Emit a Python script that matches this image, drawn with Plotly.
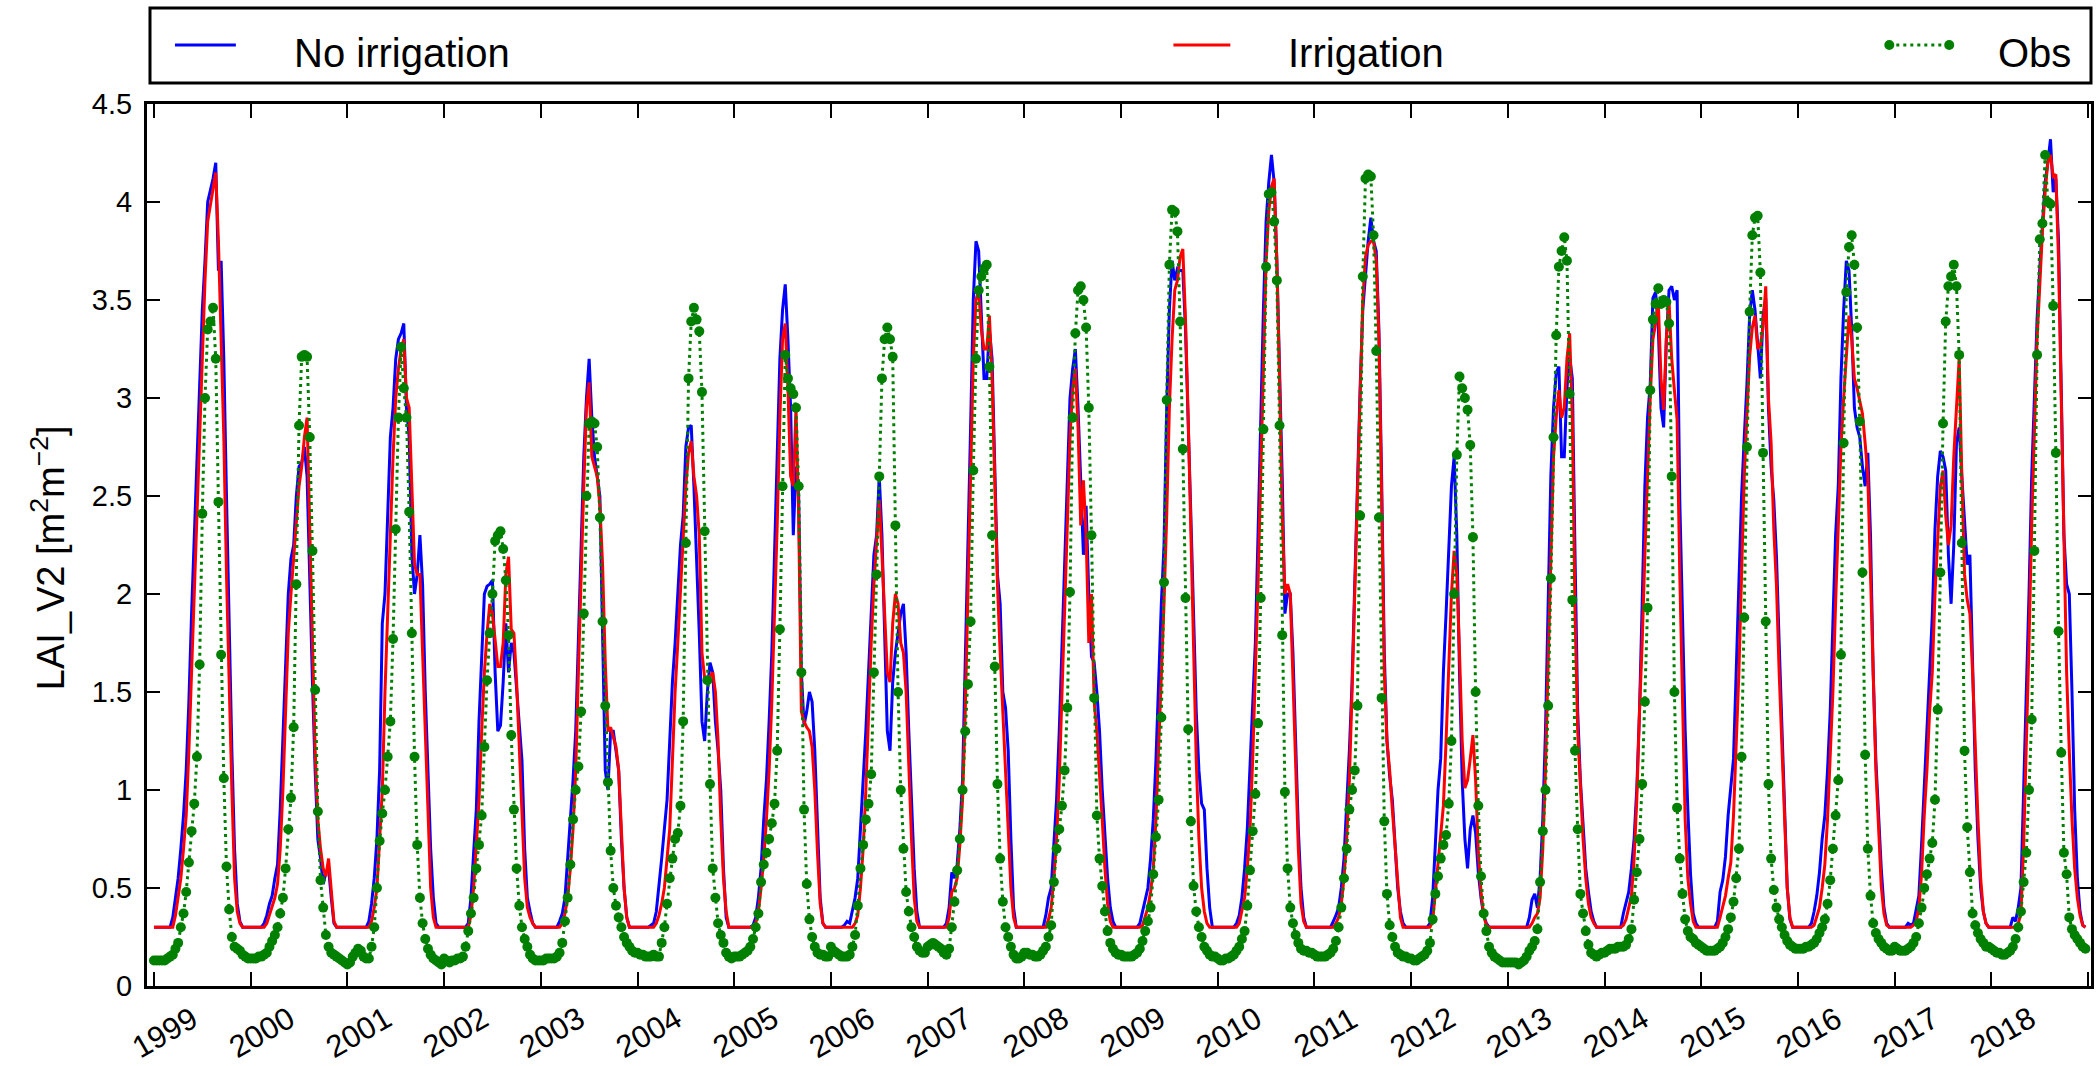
import plotly.graph_objects as go

# ---------------- data (dekadal values, 36 per year) ----------------
YEARS = list(range(1999, 2019))
YEAR_LABELS = [str(y) for y in YEARS]
Y_TICKS = [0, 0.5, 1, 1.5, 2, 2.5, 3, 3.5, 4, 4.5]
Y_TICK_TEXT = ["0", "0.5", "1", "1.5", "2", "2.5", "3", "3.5", "4", "4.5"]

NOIRR_1999 = [0.3,0.3,0.3,0.3,0.3,0.3,0.3,0.35,0.45,0.55,0.7,0.87,1.1,1.45,1.9,2.3,2.6,3.05,3.45,3.7,4.0,4.06,4.12,4.2,3.65,3.7,3.2,2.5,1.8,1.2,0.7,0.42,0.33,0.3,0.3,0.3]
IRR_1999 = [0.3,0.3,0.3,0.3,0.3,0.3,0.3,0.3,0.36,0.45,0.55,0.7,0.87,1.2,1.6,2.0,2.4,2.8,3.3,3.6,3.9,3.98,4.05,4.15,3.8,3.3,2.8,2.1,1.5,1.0,0.55,0.38,0.32,0.3,0.3,0.3]
OBS_1999 = [0.13,0.13,0.13,0.13,0.13,0.14,0.15,0.16,0.19,0.22,0.3,0.37,0.48,0.63,0.79,0.93,1.17,1.64,2.41,3.0,3.35,3.39,3.46,3.2,2.47,1.69,1.06,0.61,0.39,0.25,0.2,0.19,0.18,0.16,0.15,0.14]

NOIRR_2000 = [0.3,0.3,0.3,0.3,0.3,0.32,0.36,0.42,0.46,0.55,0.62,0.9,1.3,1.7,2.0,2.18,2.25,2.5,2.65,2.67,2.75,2.6,2.0,1.55,1.1,0.75,0.65,0.52,0.58,0.6,0.45,0.32,0.3,0.3,0.3,0.3]
IRR_2000 = [0.3,0.3,0.3,0.3,0.3,0.3,0.32,0.36,0.4,0.45,0.52,0.7,1.0,1.4,1.8,2.0,2.2,2.4,2.55,2.65,2.8,2.9,2.3,1.7,1.2,0.85,0.7,0.6,0.56,0.65,0.5,0.33,0.3,0.3,0.3,0.3]
OBS_2000 = [0.14,0.14,0.14,0.15,0.15,0.16,0.17,0.2,0.23,0.26,0.3,0.37,0.45,0.6,0.8,0.96,1.32,2.05,2.86,3.21,3.22,3.21,2.8,2.22,1.51,0.89,0.54,0.4,0.26,0.2,0.17,0.16,0.15,0.14,0.13,0.12]

NOIRR_2001 = [0.3,0.3,0.3,0.3,0.3,0.3,0.3,0.3,0.33,0.42,0.55,0.75,1.1,1.85,2.0,2.4,2.8,2.95,3.2,3.3,3.33,3.38,2.95,2.8,2.2,2.0,2.1,2.3,2.05,1.5,1.1,0.7,0.45,0.32,0.3,0.3]
IRR_2001 = [0.3,0.3,0.3,0.3,0.3,0.3,0.3,0.3,0.3,0.33,0.4,0.5,0.75,1.0,1.5,1.9,2.35,2.7,3.0,3.15,3.25,3.3,3.0,2.95,2.55,2.15,2.1,2.1,1.7,1.3,0.85,0.5,0.35,0.3,0.3,0.3]
OBS_2001 = [0.11,0.12,0.15,0.17,0.19,0.18,0.15,0.14,0.14,0.2,0.3,0.5,0.74,0.88,1.0,1.17,1.35,1.77,2.33,2.9,3.26,3.05,2.9,2.42,1.8,1.17,0.72,0.45,0.32,0.24,0.19,0.16,0.14,0.13,0.12,0.11]

NOIRR_2002 = [0.3,0.3,0.3,0.3,0.3,0.3,0.3,0.3,0.3,0.32,0.45,0.68,0.9,1.35,1.7,2.0,2.04,2.05,2.07,1.6,1.3,1.33,1.55,1.85,1.6,1.75,1.7,1.5,1.3,1.15,0.7,0.45,0.38,0.32,0.3,0.3]
IRR_2002 = [0.3,0.3,0.3,0.3,0.3,0.3,0.3,0.3,0.3,0.3,0.36,0.5,0.72,0.95,1.3,1.6,1.8,1.95,1.9,1.75,1.63,1.63,1.75,2.1,2.19,1.82,1.8,1.55,1.2,0.85,0.55,0.4,0.35,0.32,0.3,0.3]
OBS_2002 = [0.14,0.13,0.12,0.13,0.13,0.14,0.14,0.15,0.2,0.28,0.37,0.45,0.6,0.72,0.87,1.22,1.56,1.8,2.0,2.27,2.3,2.32,2.23,2.07,1.79,1.28,0.9,0.6,0.41,0.3,0.24,0.2,0.16,0.14,0.13,0.13]

NOIRR_2003 = [0.3,0.3,0.3,0.3,0.3,0.3,0.3,0.33,0.37,0.45,0.65,0.8,1.05,1.3,1.75,2.2,2.7,3.0,3.2,2.9,2.7,2.6,2.5,1.8,1.1,1.0,1.3,1.3,1.2,1.1,0.75,0.5,0.35,0.3,0.3,0.3]
IRR_2003 = [0.3,0.3,0.3,0.3,0.3,0.3,0.3,0.3,0.32,0.37,0.45,0.6,0.8,1.1,1.6,2.1,2.55,2.95,3.08,2.7,2.65,2.6,2.45,2.15,1.65,1.3,1.32,1.27,1.22,1.1,0.8,0.5,0.35,0.3,0.3,0.3]
OBS_2003 = [0.13,0.13,0.14,0.14,0.14,0.14,0.15,0.17,0.22,0.33,0.45,0.62,0.85,1.0,1.12,1.4,1.9,2.5,2.87,2.88,2.87,2.75,2.39,1.86,1.43,1.04,0.69,0.5,0.41,0.35,0.3,0.25,0.22,0.2,0.18,0.17]

NOIRR_2004 = [0.3,0.3,0.3,0.3,0.3,0.31,0.32,0.38,0.5,0.65,0.8,0.95,1.25,1.55,1.75,2.0,2.25,2.4,2.75,2.85,2.86,2.55,2.2,1.8,1.35,1.25,1.5,1.65,1.6,1.35,1.2,1.0,0.6,0.35,0.3,0.3]
IRR_2004 = [0.3,0.3,0.3,0.3,0.3,0.3,0.3,0.32,0.36,0.42,0.5,0.65,0.8,1.15,1.5,1.75,2.0,2.25,2.55,2.72,2.78,2.6,2.5,2.3,1.7,1.57,1.57,1.58,1.6,1.5,1.25,0.85,0.55,0.38,0.3,0.3]
OBS_2004 = [0.17,0.16,0.16,0.15,0.15,0.15,0.16,0.15,0.15,0.22,0.3,0.42,0.55,0.65,0.75,0.78,0.92,1.35,2.26,3.1,3.39,3.46,3.4,3.34,3.03,2.32,1.56,1.03,0.6,0.45,0.32,0.26,0.22,0.17,0.15,0.14]

NOIRR_2005 = [0.3,0.3,0.3,0.3,0.3,0.3,0.3,0.31,0.35,0.45,0.6,0.85,1.05,1.35,1.7,2.2,2.75,3.2,3.45,3.58,3.3,2.95,2.3,2.65,2.5,1.6,1.33,1.4,1.5,1.45,1.2,0.8,0.45,0.32,0.3,0.3]
IRR_2005 = [0.3,0.3,0.3,0.3,0.3,0.3,0.3,0.3,0.32,0.38,0.5,0.65,0.85,1.1,1.45,1.85,2.35,2.9,3.3,3.38,3.05,2.6,2.55,2.95,2.4,1.4,1.35,1.32,1.3,1.22,1.0,0.68,0.42,0.32,0.3,0.3]
OBS_2005 = [0.15,0.15,0.15,0.16,0.17,0.18,0.2,0.24,0.3,0.37,0.53,0.62,0.68,0.75,0.83,0.93,1.2,1.82,2.55,3.22,3.1,3.05,3.02,2.95,2.55,1.6,0.9,0.52,0.34,0.25,0.2,0.17,0.16,0.16,0.15,0.15]

NOIRR_2006 = [0.3,0.3,0.3,0.3,0.3,0.31,0.33,0.32,0.38,0.45,0.55,0.8,1.0,1.3,1.6,1.9,2.2,2.3,2.6,2.3,1.8,1.3,1.2,1.55,1.7,1.8,1.9,1.95,1.7,1.3,0.9,0.6,0.38,0.3,0.3,0.3]
IRR_2006 = [0.3,0.3,0.3,0.3,0.3,0.3,0.3,0.3,0.3,0.32,0.36,0.5,0.7,1.0,1.4,1.75,2.05,2.3,2.48,2.2,1.9,1.6,1.55,1.85,2.0,1.95,1.75,1.7,1.5,1.1,0.75,0.45,0.33,0.3,0.3,0.3]
OBS_2006 = [0.2,0.18,0.17,0.16,0.15,0.15,0.15,0.16,0.2,0.26,0.41,0.6,0.72,0.85,0.93,1.08,1.6,2.1,2.6,3.1,3.3,3.36,3.3,3.21,2.35,1.5,1.0,0.7,0.48,0.38,0.3,0.25,0.2,0.18,0.17,0.17]

NOIRR_2007 = [0.3,0.3,0.3,0.3,0.3,0.3,0.3,0.32,0.4,0.58,0.55,0.62,0.8,1.05,1.6,2.2,2.85,3.5,3.8,3.75,3.4,3.1,3.1,3.35,3.2,2.6,2.1,1.95,1.5,1.42,1.2,0.75,0.4,0.3,0.3,0.3]
IRR_2007 = [0.3,0.3,0.3,0.3,0.3,0.3,0.3,0.3,0.35,0.48,0.5,0.55,0.72,0.95,1.4,2.0,2.6,3.2,3.5,3.55,3.35,3.25,3.25,3.42,3.1,2.6,2.05,1.7,1.4,1.1,0.8,0.5,0.35,0.3,0.3,0.3]
OBS_2007 = [0.2,0.21,0.22,0.21,0.2,0.19,0.17,0.16,0.19,0.3,0.43,0.59,0.75,1.0,1.3,1.54,1.86,2.63,3.2,3.55,3.62,3.66,3.68,3.16,2.3,1.63,1.03,0.65,0.43,0.3,0.25,0.2,0.16,0.14,0.14,0.15]

NOIRR_2008 = [0.3,0.3,0.3,0.3,0.3,0.3,0.3,0.3,0.36,0.45,0.5,0.7,0.95,1.3,1.75,2.2,2.6,3.0,3.15,3.25,2.95,2.6,2.2,2.45,2.0,1.68,1.65,1.5,1.3,1.0,0.75,0.55,0.4,0.33,0.3,0.3]
IRR_2008 = [0.3,0.3,0.3,0.3,0.3,0.3,0.3,0.3,0.3,0.34,0.4,0.55,0.75,1.05,1.45,1.9,2.35,2.8,3.05,3.15,2.85,2.35,2.58,2.3,1.75,2.0,1.45,1.3,1.1,0.85,0.6,0.42,0.33,0.3,0.3,0.3]
OBS_2008 = [0.17,0.17,0.16,0.16,0.15,0.15,0.16,0.18,0.2,0.25,0.31,0.53,0.7,0.8,0.92,1.1,1.42,2.01,2.9,3.33,3.55,3.57,3.5,3.36,2.95,2.3,1.47,0.87,0.65,0.51,0.38,0.28,0.22,0.19,0.17,0.16]

NOIRR_2009 = [0.3,0.3,0.3,0.3,0.3,0.3,0.3,0.32,0.38,0.45,0.5,0.65,0.85,1.15,1.6,1.95,2.25,2.95,3.45,3.7,3.6,3.66,3.65,3.65,3.35,2.8,2.4,1.9,1.4,1.1,0.93,0.9,0.6,0.4,0.3,0.3]
IRR_2009 = [0.3,0.3,0.3,0.3,0.3,0.3,0.3,0.3,0.31,0.35,0.4,0.48,0.6,0.85,1.2,1.6,1.95,2.4,2.95,3.3,3.55,3.6,3.72,3.76,3.4,2.9,2.3,1.7,1.15,0.75,0.5,0.38,0.32,0.3,0.3,0.3]
OBS_2009 = [0.16,0.15,0.15,0.15,0.15,0.16,0.17,0.19,0.23,0.28,0.33,0.4,0.57,0.76,0.95,1.37,2.06,2.99,3.68,3.96,3.95,3.85,3.39,2.74,1.98,1.31,0.84,0.51,0.38,0.3,0.25,0.2,0.18,0.16,0.15,0.15]

NOIRR_2010 = [0.3,0.3,0.3,0.3,0.3,0.3,0.3,0.32,0.36,0.45,0.6,0.8,1.1,1.45,1.75,2.3,2.9,3.45,3.9,4.1,4.24,4.1,3.7,3.2,2.6,1.9,2.0,2.0,1.7,1.25,0.8,0.5,0.35,0.3,0.3,0.3]
IRR_2010 = [0.3,0.3,0.3,0.3,0.3,0.3,0.3,0.3,0.32,0.38,0.45,0.6,0.8,1.15,1.55,2.05,2.6,3.2,3.7,3.95,4.08,4.12,3.7,3.1,2.4,2.0,2.05,2.0,1.6,1.1,0.7,0.42,0.33,0.3,0.3,0.3]
OBS_2010 = [0.14,0.13,0.13,0.14,0.14,0.15,0.16,0.18,0.2,0.24,0.28,0.41,0.59,0.79,0.98,1.34,1.98,2.84,3.67,4.04,4.05,3.9,3.6,2.86,1.79,0.99,0.6,0.4,0.32,0.26,0.22,0.19,0.18,0.18,0.17,0.17]

NOIRR_2011 = [0.3,0.3,0.3,0.3,0.3,0.3,0.3,0.33,0.36,0.4,0.5,0.65,0.9,1.2,1.55,2.05,2.6,3.05,3.45,3.65,3.8,3.92,3.8,3.75,3.35,2.6,1.7,1.25,1.07,0.95,0.75,0.5,0.38,0.32,0.3,0.3]
IRR_2011 = [0.3,0.3,0.3,0.3,0.3,0.3,0.3,0.3,0.32,0.35,0.42,0.55,0.75,1.05,1.5,2.0,2.55,3.1,3.5,3.72,3.78,3.8,3.8,3.7,3.3,2.5,1.6,1.25,1.1,0.9,0.7,0.5,0.35,0.3,0.3,0.3]
OBS_2011 = [0.16,0.15,0.15,0.15,0.15,0.16,0.17,0.19,0.23,0.3,0.4,0.55,0.7,0.9,1.0,1.1,1.43,2.4,3.62,4.12,4.14,4.13,3.83,3.24,2.39,1.47,0.84,0.47,0.31,0.25,0.2,0.17,0.16,0.15,0.15,0.14]

NOIRR_2012 = [0.3,0.3,0.3,0.3,0.3,0.3,0.3,0.32,0.45,0.72,1.0,1.16,1.6,1.9,2.25,2.55,2.7,2.3,1.6,1.05,0.75,0.6,0.8,0.87,0.78,0.58,0.45,0.36,0.32,0.3,0.3,0.3,0.3,0.3,0.3,0.3]
IRR_2012 = [0.3,0.3,0.3,0.3,0.3,0.3,0.3,0.3,0.33,0.48,0.6,0.75,0.92,1.25,1.65,2.0,2.22,2.1,1.7,1.25,1.01,1.05,1.16,1.28,1.05,0.68,0.48,0.36,0.31,0.3,0.3,0.3,0.3,0.3,0.3,0.3]
OBS_2012 = [0.14,0.13,0.13,0.14,0.15,0.16,0.18,0.22,0.34,0.47,0.56,0.65,0.72,0.77,0.93,1.25,2.0,2.71,3.11,3.05,3.0,2.94,2.76,2.29,1.5,0.92,0.56,0.37,0.28,0.2,0.17,0.15,0.14,0.13,0.12,0.12]

NOIRR_2013 = [0.3,0.3,0.3,0.3,0.3,0.3,0.3,0.3,0.35,0.44,0.47,0.4,0.55,0.85,1.3,2.0,2.6,2.95,3.13,3.16,2.7,2.7,3.05,3.21,3.1,2.2,1.4,1.05,0.8,0.6,0.48,0.38,0.33,0.3,0.3,0.3]
IRR_2013 = [0.3,0.3,0.3,0.3,0.3,0.3,0.3,0.3,0.3,0.32,0.35,0.37,0.45,0.7,1.1,1.65,2.2,2.7,2.9,3.04,2.9,2.95,3.2,3.33,2.9,1.9,1.3,0.98,0.75,0.55,0.42,0.35,0.32,0.3,0.3,0.3]
OBS_2013 = [0.12,0.12,0.12,0.12,0.11,0.12,0.13,0.15,0.18,0.2,0.23,0.29,0.53,0.79,1.0,1.43,2.08,2.8,3.32,3.67,3.75,3.82,3.7,3.02,1.97,1.2,0.8,0.47,0.37,0.28,0.21,0.17,0.16,0.15,0.16,0.17]

NOIRR_2014 = [0.3,0.3,0.3,0.3,0.3,0.3,0.3,0.37,0.43,0.48,0.6,0.75,1.01,1.4,1.95,2.55,2.9,3.07,3.51,3.54,3.36,2.95,2.85,3.3,3.55,3.57,3.5,3.55,2.48,1.89,1.31,0.9,0.57,0.37,0.32,0.3]
IRR_2014 = [0.3,0.3,0.3,0.3,0.3,0.3,0.3,0.31,0.34,0.4,0.46,0.65,0.95,1.4,1.75,2.2,2.65,3.0,3.3,3.38,3.49,3.1,2.94,3.3,3.49,3.2,3.04,2.89,2.1,1.4,0.85,0.55,0.42,0.33,0.3,0.3]
OBS_2014 = [0.17,0.18,0.19,0.19,0.19,0.2,0.2,0.2,0.21,0.24,0.29,0.44,0.58,0.75,1.03,1.45,1.93,3.04,3.4,3.48,3.56,3.48,3.5,3.49,3.38,2.6,1.5,0.91,0.65,0.47,0.34,0.28,0.25,0.24,0.22,0.21]

NOIRR_2015 = [0.3,0.3,0.3,0.3,0.3,0.3,0.33,0.48,0.54,0.66,0.87,1.0,1.16,1.6,2.04,2.5,2.8,3.07,3.42,3.55,3.45,3.25,3.1,3.42,3.51,2.95,2.65,2.48,2.19,1.75,1.35,0.9,0.5,0.34,0.3,0.3]
IRR_2015 = [0.3,0.3,0.3,0.3,0.3,0.3,0.3,0.35,0.4,0.46,0.55,0.63,0.87,1.2,1.6,2.1,2.6,2.92,3.21,3.36,3.42,3.25,3.27,3.36,3.57,3.0,2.77,2.33,2.04,1.6,1.25,0.85,0.5,0.35,0.3,0.3]
OBS_2015 = [0.2,0.19,0.18,0.18,0.18,0.18,0.19,0.2,0.22,0.25,0.29,0.35,0.43,0.55,0.7,1.17,1.88,2.75,3.44,3.83,3.92,3.93,3.64,2.72,1.86,1.03,0.65,0.49,0.4,0.34,0.3,0.26,0.23,0.21,0.2,0.19]

NOIRR_2016 = [0.3,0.3,0.3,0.3,0.3,0.32,0.38,0.46,0.58,0.75,0.87,1.1,1.4,1.85,2.3,2.55,3.1,3.45,3.7,3.65,3.35,2.95,2.85,2.8,2.65,2.55,2.72,2.3,1.6,1.15,0.87,0.6,0.4,0.32,0.3,0.3]
IRR_2016 = [0.3,0.3,0.3,0.3,0.3,0.3,0.31,0.35,0.4,0.5,0.62,0.85,1.16,1.5,1.95,2.4,2.75,3.0,3.21,3.42,3.3,3.1,3.05,2.98,2.92,2.77,2.6,2.1,1.55,1.1,0.81,0.51,0.37,0.31,0.3,0.3]
OBS_2016 = [0.19,0.19,0.19,0.2,0.2,0.21,0.22,0.24,0.27,0.3,0.34,0.42,0.54,0.7,0.87,1.05,1.69,2.77,3.54,3.77,3.83,3.68,3.36,2.88,2.11,1.18,0.7,0.46,0.32,0.27,0.24,0.22,0.2,0.19,0.18,0.18]

NOIRR_2017 = [0.3,0.3,0.3,0.3,0.3,0.32,0.31,0.32,0.4,0.46,0.72,1.01,1.25,1.6,1.89,2.33,2.6,2.73,2.7,2.63,2.2,1.95,2.25,2.77,2.85,2.6,2.35,2.15,2.2,1.6,1.1,0.75,0.5,0.38,0.32,0.3]
IRR_2017 = [0.3,0.3,0.3,0.3,0.3,0.3,0.3,0.31,0.33,0.4,0.57,0.87,1.1,1.4,1.6,2.0,2.3,2.55,2.63,2.4,2.25,2.35,2.7,2.95,3.2,2.6,2.1,1.97,1.9,1.6,1.2,0.85,0.55,0.38,0.32,0.3]
OBS_2017 = [0.2,0.19,0.18,0.18,0.18,0.19,0.2,0.22,0.25,0.32,0.4,0.5,0.57,0.65,0.73,0.95,1.41,2.11,2.87,3.39,3.57,3.62,3.68,3.57,3.22,2.26,1.2,0.81,0.58,0.37,0.31,0.27,0.24,0.22,0.2,0.2]

NOIRR_2018 = [0.3,0.3,0.3,0.3,0.3,0.3,0.3,0.3,0.35,0.33,0.4,0.5,1.0,1.45,2.0,2.6,3.0,3.4,3.66,3.9,4.1,4.2,4.32,4.05,4.12,3.8,3.0,2.3,2.05,2.0,1.5,0.9,0.55,0.38,0.31,0.3]
IRR_2018 = [0.3,0.3,0.3,0.3,0.3,0.3,0.3,0.3,0.3,0.3,0.32,0.37,0.72,1.2,1.75,2.35,2.9,3.3,3.57,3.85,4.05,4.2,4.24,4.13,4.14,3.7,3.0,2.2,1.6,1.2,0.85,0.6,0.45,0.36,0.31,0.3]
OBS_2018 = [0.19,0.18,0.17,0.17,0.16,0.16,0.17,0.18,0.2,0.24,0.3,0.38,0.53,0.68,1.0,1.36,2.22,3.22,3.81,3.89,4.24,4.0,3.99,3.47,2.72,1.81,1.19,0.68,0.57,0.35,0.29,0.26,0.24,0.22,0.2,0.19]

NOIRR = [NOIRR_1999, NOIRR_2000, NOIRR_2001, NOIRR_2002, NOIRR_2003, NOIRR_2004, NOIRR_2005,
         NOIRR_2006, NOIRR_2007, NOIRR_2008, NOIRR_2009, NOIRR_2010, NOIRR_2011, NOIRR_2012,
         NOIRR_2013, NOIRR_2014, NOIRR_2015, NOIRR_2016, NOIRR_2017, NOIRR_2018]
IRR = [IRR_1999, IRR_2000, IRR_2001, IRR_2002, IRR_2003, IRR_2004, IRR_2005,
       IRR_2006, IRR_2007, IRR_2008, IRR_2009, IRR_2010, IRR_2011, IRR_2012,
       IRR_2013, IRR_2014, IRR_2015, IRR_2016, IRR_2017, IRR_2018]
OBS = [OBS_1999, OBS_2000, OBS_2001, OBS_2002, OBS_2003, OBS_2004, OBS_2005,
       OBS_2006, OBS_2007, OBS_2008, OBS_2009, OBS_2010, OBS_2011, OBS_2012,
       OBS_2013, OBS_2014, OBS_2015, OBS_2016, OBS_2017, OBS_2018]


def flatten(per_year):
    xs, ys = [], []
    for yr, vals in zip(YEARS, per_year):
        for d, v in enumerate(vals):
            xs.append(yr + d / 36.0)
            ys.append(v)
    return xs, ys


x_b, y_b = flatten(NOIRR)
x_r, y_r = flatten(IRR)
x_o, y_o = flatten(OBS)

# ---------------- layout geometry ----------------
W, H = 2098, 1066
L, R, T, B = 147, 4, 104, 80
PW = W - L - R
PH = H - T - B
FONT = "Liberation Sans, Arial, Helvetica, sans-serif"


def px_x(px):
    return (px - L) / PW


def px_y(py):
    return (H - B - py) / PH


fig = go.Figure()
fig.add_trace(go.Scatter(x=x_b, y=y_b, mode="lines", name="No irrigation",
                         line=dict(color="#0000ff", width=3), showlegend=False))
fig.add_trace(go.Scatter(x=x_r, y=y_r, mode="lines", name="Irrigation",
                         line=dict(color="#ff0000", width=3), showlegend=False))
fig.add_trace(go.Scatter(x=x_o, y=y_o, mode="lines+markers", name="Obs",
                         line=dict(color="#008000", width=3, dash="3px,4px"),
                         marker=dict(size=10, color="#008000"), showlegend=False))

shapes = []
annotations = []

# legend box
shapes.append(dict(type="rect", xref="paper", yref="paper",
                   x0=px_x(150), x1=px_x(2094), y0=px_y(83), y1=px_y(8),
                   line=dict(color="black", width=3), fillcolor="white", layer="above"))
LEG_Y = 45
TXT_Y = 53
legend_items = [
    ("No irrigation", "#0000ff", 175, 236, 292, False),
    ("Irrigation", "#ff0000", 1175, 1232, 1288, False),
    ("Obs", "#008000", 1892, 1952, 1999, True),
]
for label, color, lx0, lx1, tx, dotted in legend_items:
    shapes.append(dict(type="line", xref="paper", yref="paper",
                       x0=px_x(lx0), x1=px_x(lx1), y0=px_y(LEG_Y), y1=px_y(LEG_Y),
                       line=dict(color=color, width=3, dash="3px,4px" if dotted else "solid"),
                       layer="above"))
    if dotted:
        for cx in (lx0, lx1):
            shapes.append(dict(type="circle", xref="paper", yref="paper",
                               xsizemode="pixel", ysizemode="pixel",
                               xanchor=px_x(cx), yanchor=px_y(LEG_Y),
                               x0=-5, x1=5, y0=-5, y1=5,
                               fillcolor=color, line=dict(color=color, width=0),
                               layer="above"))
    annotations.append(dict(xref="paper", yref="paper", x=px_x(tx), y=px_y(TXT_Y),
                            text=label, showarrow=False, xanchor="left", yanchor="middle",
                            font=dict(family=FONT, size=40, color="black")))

# rotated year labels
for yr, lab in zip(YEARS, YEAR_LABELS):
    annotations.append(dict(xref="x", yref="paper", x=yr, y=0, xshift=11, yshift=-46,
                            text=lab, showarrow=False, textangle=-30,
                            xanchor="center", yanchor="middle", borderpad=0,
                            font=dict(family=FONT, size=31, color="black")))

# y axis title
annotations.append(dict(xref="paper", yref="paper", x=px_x(48), y=px_y(558),
                        text="LAI_V2 [m<sup>2</sup>m<sup>\u22122</sup>]", showarrow=False,
                        textangle=-90, xanchor="center", yanchor="middle",
                        font=dict(family=FONT, size=38, color="black")))

fig.update_layout(
    width=W, height=H,
    margin=dict(l=L, r=R, t=T, b=B, pad=0),
    paper_bgcolor="white", plot_bgcolor="white",
    font=dict(family=FONT, color="black"),
    showlegend=False,
    shapes=shapes,
    annotations=annotations,
    xaxis=dict(range=[1998.928, 2019.03], tickvals=list(range(1999, 2020)),
               showticklabels=False, ticks="inside", ticklen=14, tickwidth=2,
               tickcolor="black", showline=True, linewidth=3, linecolor="black",
               mirror="allticks", showgrid=False, zeroline=False),
    yaxis=dict(range=[0, 4.5], tickvals=Y_TICKS, ticktext=Y_TICK_TEXT,
               ticks="inside", ticklen=13, tickwidth=2, tickcolor="black",
               showline=True, linewidth=3, linecolor="black", mirror="allticks",
               showgrid=False, zeroline=False, ticklabelstandoff=6,
               tickfont=dict(family=FONT, size=29, color="black")),
)

fig.write_html("out.html")
